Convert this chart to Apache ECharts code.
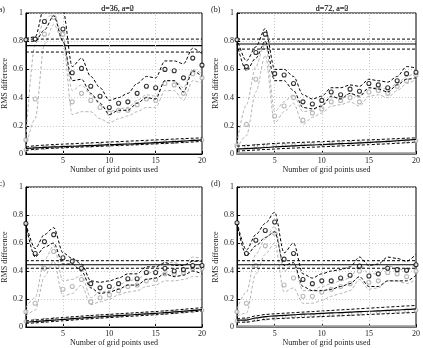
<!DOCTYPE html>
<html>
<head>
<meta charset="utf-8">
<script src="https://cdn.jsdelivr.net/npm/echarts@6/dist/echarts.min.js"></script>
<style>
  html,body{margin:0;padding:0;background:#fff;}
  #chart{width:423px;height:348px;}
</style>
</head>
<body>
<div id="chart"></div>
<script>
// x positions (number of grid points used)
var xs = [1,2,3,4,5,6,7,8,9,10,11,12,13,14,15,16,17,18,19,20];
var xTickVals = [5,10,15,20];
var xGridVals = [5,10,15];
var titles = ['d=36, a=0','d=72, a=0','d=36, a=2','d=72, a=2'];
var panelTags = ['(a)','(b)','(c)','(d)'];

// panel (a)
var aBlackUp   = [0.82,0.83,1.05,1.10,1.02,0.62,0.68,0.55,0.47,0.38,0.40,0.43,0.50,0.55,0.54,0.66,0.66,0.64,0.75,0.71];
var aBlackLo   = [0.80,0.80,0.88,0.98,0.80,0.52,0.53,0.43,0.36,0.28,0.31,0.31,0.36,0.40,0.39,0.52,0.52,0.44,0.59,0.55];
var aBlackMean = [0.81,0.815,0.94,1.02,0.886,0.576,0.607,0.48,0.41,0.33,0.36,0.37,0.43,0.48,0.47,0.60,0.59,0.54,0.68,0.63];
var aGrayUp    = [0.12,0.78,0.95,1.00,0.83,0.45,0.49,0.42,0.35,0.30,0.32,0.33,0.38,0.42,0.41,0.52,0.52,0.47,0.60,0.57];
var aGrayLo    = [0.05,0.25,0.78,0.92,0.80,0.28,0.30,0.30,0.25,0.22,0.25,0.27,0.30,0.33,0.33,0.45,0.45,0.38,0.52,0.50];
var aGrayMean  = [0.10,0.39,0.85,0.97,0.85,0.37,0.43,0.38,0.33,0.29,0.31,0.31,0.35,0.39,0.38,0.50,0.49,0.43,0.57,0.54];
var aHLines    = [0.815,0.768,0.723];
var aLowSolid  = [0.040,0.044,0.047,0.050,0.052,0.055,0.058,0.060,0.063,0.066,0.068,0.071,0.074,0.077,0.080,0.084,0.088,0.092,0.096,0.100];
var aLowUp     = [0.050,0.058,0.063,0.067,0.070,0.073,0.076,0.079,0.082,0.085,0.088,0.091,0.094,0.097,0.100,0.103,0.106,0.109,0.112,0.115];
var aLowLo     = [0.025,0.033,0.038,0.041,0.044,0.047,0.050,0.052,0.055,0.058,0.061,0.063,0.066,0.069,0.072,0.075,0.078,0.082,0.086,0.090];
var aLowGray   = [0.030,0.040,0.045,0.050,0.052,0.055,0.058,0.060,0.064,0.066,0.069,0.072,0.075,0.078,0.081,0.084,0.088,0.091,0.095,0.099];

// panel (b)
var bBlackUp   = [0.82,0.66,0.76,0.89,0.60,0.60,0.55,0.42,0.39,0.41,0.47,0.47,0.49,0.48,0.53,0.52,0.51,0.55,0.62,0.61];
var bBlackLo   = [0.78,0.59,0.68,0.80,0.52,0.52,0.45,0.33,0.32,0.34,0.41,0.39,0.43,0.41,0.47,0.46,0.44,0.49,0.53,0.54];
var bBlackMean = [0.81,0.62,0.72,0.85,0.57,0.56,0.50,0.37,0.355,0.38,0.44,0.42,0.46,0.445,0.50,0.49,0.47,0.52,0.57,0.58];
var bGrayUp    = [0.08,0.35,0.62,0.80,0.30,0.37,0.42,0.30,0.31,0.35,0.40,0.40,0.43,0.40,0.47,0.47,0.46,0.50,0.55,0.58];
var bGrayLo    = [0.04,0.13,0.44,0.70,0.22,0.30,0.36,0.21,0.26,0.29,0.34,0.35,0.37,0.34,0.41,0.42,0.40,0.45,0.50,0.53];
var bGrayMean  = [0.06,0.21,0.53,0.76,0.27,0.34,0.40,0.24,0.29,0.32,0.37,0.38,0.40,0.37,0.44,0.45,0.43,0.48,0.52,0.56];
var bHLines    = [0.815,0.78,0.744];
var bLowSolid  = [0.035,0.038,0.042,0.046,0.050,0.054,0.058,0.061,0.064,0.067,0.070,0.073,0.076,0.079,0.082,0.086,0.090,0.094,0.099,0.104];
var bLowUp     = [0.055,0.060,0.065,0.070,0.075,0.078,0.080,0.083,0.085,0.088,0.090,0.093,0.095,0.098,0.100,0.103,0.106,0.109,0.112,0.115];
var bLowLo     = [0.020,0.024,0.028,0.032,0.035,0.039,0.042,0.045,0.048,0.051,0.054,0.057,0.060,0.063,0.066,0.069,0.072,0.076,0.080,0.085];
var bLowGray   = [0.050,0.053,0.056,0.059,0.062,0.064,0.066,0.068,0.070,0.072,0.074,0.076,0.078,0.080,0.082,0.085,0.087,0.090,0.092,0.095];

// panel (c)
var cBlackUp   = [0.74,0.56,0.66,0.71,0.53,0.49,0.45,0.33,0.32,0.33,0.35,0.38,0.38,0.43,0.43,0.46,0.44,0.44,0.47,0.47];
var cBlackLo   = [0.73,0.50,0.57,0.60,0.45,0.45,0.40,0.28,0.24,0.25,0.27,0.30,0.30,0.34,0.35,0.38,0.36,0.37,0.40,0.38];
var cBlackMean = [0.74,0.525,0.61,0.66,0.495,0.47,0.42,0.31,0.28,0.29,0.31,0.345,0.345,0.39,0.39,0.42,0.40,0.41,0.44,0.44];
var cGrayUp    = [0.14,0.21,0.48,0.58,0.33,0.34,0.37,0.21,0.25,0.26,0.30,0.33,0.34,0.38,0.40,0.46,0.46,0.44,0.50,0.49];
var cGrayLo    = [0.08,0.12,0.36,0.47,0.22,0.24,0.30,0.16,0.18,0.20,0.23,0.25,0.26,0.29,0.30,0.33,0.33,0.34,0.36,0.36];
var cGrayMean  = [0.11,0.17,0.42,0.54,0.27,0.29,0.34,0.18,0.21,0.23,0.26,0.29,0.30,0.33,0.34,0.38,0.38,0.39,0.42,0.42];
var cHLines    = [0.474,0.445,0.42];
var cLowSolid  = [0.035,0.040,0.045,0.050,0.055,0.060,0.065,0.070,0.074,0.078,0.082,0.086,0.090,0.094,0.098,0.103,0.108,0.113,0.119,0.125];
var cLowUp     = [0.045,0.051,0.057,0.063,0.068,0.073,0.078,0.083,0.087,0.091,0.095,0.099,0.103,0.107,0.111,0.116,0.121,0.127,0.133,0.140];
var cLowLo     = [0.025,0.030,0.035,0.040,0.045,0.050,0.055,0.060,0.064,0.068,0.072,0.076,0.080,0.084,0.088,0.093,0.098,0.104,0.110,0.115];
var cLowGray   = [0.040,0.045,0.050,0.055,0.060,0.064,0.068,0.072,0.076,0.080,0.084,0.088,0.092,0.096,0.100,0.104,0.108,0.112,0.116,0.120];

// panel (d)
var dBlackUp   = [0.75,0.55,0.66,0.74,0.82,0.53,0.60,0.38,0.35,0.38,0.40,0.41,0.43,0.50,0.44,0.45,0.50,0.49,0.47,0.52];
var dBlackLo   = [0.74,0.51,0.58,0.64,0.68,0.44,0.46,0.29,0.26,0.26,0.27,0.29,0.31,0.36,0.29,0.29,0.33,0.33,0.33,0.37];
var dBlackMean = [0.745,0.525,0.62,0.69,0.75,0.485,0.525,0.34,0.31,0.33,0.33,0.35,0.37,0.435,0.365,0.38,0.42,0.41,0.405,0.445];
var dGrayUp    = [0.13,0.25,0.52,0.63,0.72,0.40,0.45,0.26,0.26,0.29,0.31,0.33,0.35,0.45,0.38,0.38,0.44,0.42,0.40,0.46];
var dGrayLo    = [0.08,0.10,0.38,0.52,0.60,0.25,0.28,0.17,0.17,0.19,0.22,0.24,0.26,0.34,0.27,0.28,0.33,0.33,0.31,0.34];
var dGrayMean  = [0.11,0.17,0.44,0.58,0.67,0.30,0.35,0.22,0.22,0.25,0.27,0.29,0.31,0.40,0.32,0.33,0.39,0.38,0.36,0.40];
var dHLines    = [0.474,0.445,0.42];
var dLowSolid  = [0.050,0.050,0.065,0.075,0.080,0.084,0.088,0.092,0.095,0.098,0.101,0.104,0.107,0.110,0.113,0.116,0.119,0.122,0.126,0.130];
var dLowUp     = [0.060,0.065,0.080,0.090,0.095,0.099,0.103,0.107,0.111,0.115,0.119,0.123,0.127,0.131,0.135,0.139,0.143,0.147,0.151,0.155];
var dLowLo     = [0.035,0.035,0.045,0.055,0.060,0.063,0.066,0.069,0.072,0.075,0.078,0.081,0.084,0.087,0.090,0.093,0.096,0.099,0.102,0.105];
var dLowGray   = [0.045,0.048,0.055,0.062,0.068,0.072,0.076,0.080,0.083,0.086,0.089,0.092,0.095,0.098,0.101,0.104,0.107,0.111,0.115,0.120];

var panels = [
  {bu:aBlackUp,bl:aBlackLo,bm:aBlackMean,gu:aGrayUp,gl:aGrayLo,gm:aGrayMean,h:aHLines,ls:aLowSolid,lu:aLowUp,ll:aLowLo,lg:aLowGray,zero:false},
  {bu:bBlackUp,bl:bBlackLo,bm:bBlackMean,gu:bGrayUp,gl:bGrayLo,gm:bGrayMean,h:bHLines,ls:bLowSolid,lu:bLowUp,ll:bLowLo,lg:bLowGray,zero:true},
  {bu:cBlackUp,bl:cBlackLo,bm:cBlackMean,gu:cGrayUp,gl:cGrayLo,gm:cGrayMean,h:cHLines,ls:cLowSolid,lu:cLowUp,ll:cLowLo,lg:cLowGray,zero:false},
  {bu:dBlackUp,bl:dBlackLo,bm:dBlackMean,gu:dGrayUp,gl:dGrayLo,gm:dGrayMean,h:dHLines,ls:dLowSolid,lu:dLowUp,ll:dLowLo,lg:dLowGray,zero:true}
];

var FONT = 'Liberation Serif';
var BLACK = '#000';
var GRAY = '#b4b4b4';
var DASH = [3,2];

// plot boxes
var boxes = [
  {left:23, top:13, width:179, height:141},
  {left:237, top:13, width:180, height:141},
  {left:23, top:187, width:179, height:141},
  {left:237, top:187, width:180, height:141}
];

function pairs(ys){
  var out=[];
  for(var i=0;i<xs.length;i++) out.push([xs[i],ys[i]]);
  return out;
}
function flat(v){
  return [[xs[0],v],[xs[xs.length-1],v]];
}
function lineS(k,data,color,type,width,z,smooth){
  return {type:'line',xAxisIndex:k,yAxisIndex:k,data:data,symbol:'none',silent:true,z:z||2,
    smooth:smooth||false,smoothMonotone:'x',
    lineStyle:{color:color,width:width||1,type:type}};
}
function dotS(k,data,color,size,z){
  return {type:'scatter',xAxisIndex:k,yAxisIndex:k,data:data,symbol:'circle',symbolSize:size,silent:true,z:z||3,
    itemStyle:{color:'#fff',borderColor:color,borderWidth:1.1}};
}

var grids=[],xAxes=[],yAxes=[],series=[],titleArr=[],graphics=[];
for(var k=0;k<4;k++){
  var b=boxes[k], p=panels[k];
  grids.push({left:b.left,top:b.top,width:b.width,height:b.height,show:true,borderColor:'#000',borderWidth:1,backgroundColor:'#fff'});
  xAxes.push({gridIndex:k,type:'value',min:1,max:20,
    name:'Number of grid points used',nameLocation:'middle',nameGap:11,
    nameTextStyle:{fontFamily:FONT,fontSize:8,color:'#222'},
    axisLine:{show:true,lineStyle:{color:'#000',width:1}},
    axisTick:{show:true,inside:true,length:3,customValues:xTickVals,lineStyle:{color:'#000'}},
    axisLabel:{customValues:xTickVals,fontFamily:FONT,fontSize:8,color:'#222',margin:3},
    splitLine:{show:false}});
  yAxes.push({gridIndex:k,type:'value',min:0,max:1,interval:0.2,
    name:'RMS difference',nameLocation:'middle',nameGap:15,
    nameTextStyle:{fontFamily:FONT,fontSize:8,color:'#222'},
    axisLine:{show:true,lineStyle:{color:'#000',width:1}},
    axisTick:{show:true,inside:true,length:3,lineStyle:{color:'#000'}},
    axisLabel:{fontFamily:FONT,fontSize:8,color:'#222',margin:3},
    splitLine:{show:true,lineStyle:{color:'#c8c8c8',type:[1,2],width:1}}});
  titleArr.push({text:titles[k],left:b.left+b.width/2,top:0,textAlign:'center',
    textStyle:{fontFamily:FONT,fontSize:8,fontWeight:'normal',color:'#333'}});
  graphics.push({type:'text',left:(k%2===0)?-4:211,top:(k<2)?6:180,
    style:{text:panelTags[k],font:'8px "'+FONT+'"',fill:'#222'}});

  // vertical grid lines
  var grid0 = lineS(k,[],GRAY,'solid',1,1);
  grid0.markLine={silent:true,symbol:'none',label:{show:false},
    lineStyle:{color:'#c8c8c8',type:[1,2],width:1},
    data:xGridVals.map(function(v){return {xAxis:v};})};
  series.push(grid0);

  // gray band + means
  series.push(lineS(k,pairs(p.gu),GRAY,DASH,1,2,0.3));
  series.push(lineS(k,pairs(p.gl),GRAY,DASH,1,2,0.3));
  series.push(dotS(k,pairs(p.gm),'#a8a8a8',4,3));
  series.push(dotS(k,pairs(p.lg),'#a8a8a8',3.5,3));
  if(p.zero) series.push(lineS(k,flat(0.004),'#999','solid',2.5,2));

  // horizontal reference lines
  series.push(lineS(k,flat(p.h[0]),BLACK,DASH,1,4));
  series.push(lineS(k,flat(p.h[1]),BLACK,'solid',1.2,4));
  series.push(lineS(k,flat(p.h[2]),BLACK,DASH,1,4));

  // lower group
  series.push(lineS(k,pairs(p.ls),BLACK,'solid',1.2,4,0.3));
  series.push(lineS(k,pairs(p.lu),BLACK,DASH,1,4,0.3));
  series.push(lineS(k,pairs(p.ll),BLACK,DASH,1,4,0.3));

  // black band + means
  series.push(lineS(k,pairs(p.bu),BLACK,DASH,1,5,0.3));
  series.push(lineS(k,pairs(p.bl),BLACK,DASH,1,5,0.3));
  series.push(dotS(k,pairs(p.bm),BLACK,4,6));
}

var chart = echarts.init(document.getElementById('chart'),null,{renderer:'canvas'});
chart.setOption({
  animation:false,
  backgroundColor:'#fff',
  title:titleArr,
  grid:grids,
  xAxis:xAxes,
  yAxis:yAxes,
  series:series,
  graphic:graphics
});
</script>
</body>
</html>
